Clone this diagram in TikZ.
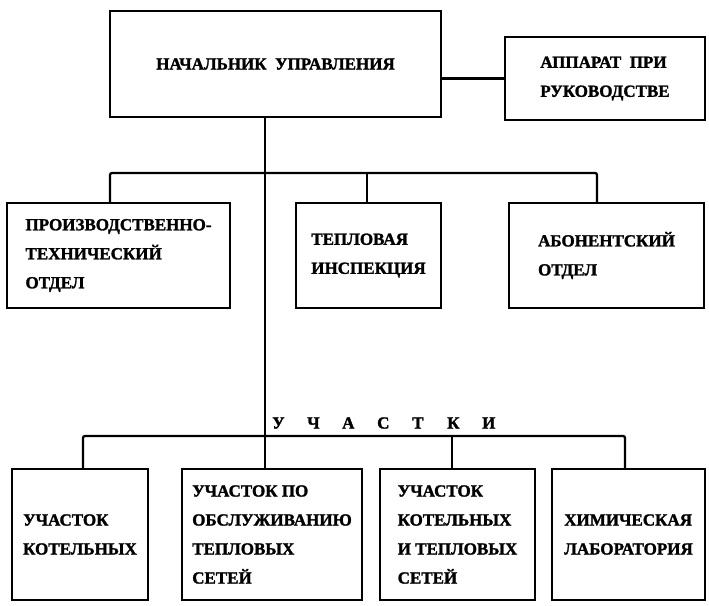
\documentclass[tikz,border=0pt]{standalone}
\usepackage{fontspec}
\newfontfamily\tw{Liberation Serif}[BoldFeatures={FakeBold=1.6}]
\newcommand{\spacedltr}[1]{\makebox[35pt][l]{#1}}
\begin{document}
\begin{tikzpicture}[x=1pt,y=-1pt,
  box/.style={draw, line width=2.3pt, rectangle, inner sep=0pt, align=left,
    font=\tw\bfseries\fontsize{17}{29}\selectfont},
  conn/.style={line width=2.3pt, rounded corners=2pt},
  lbl/.style={font=\tw\bfseries\fontsize{17}{29}\selectfont, inner sep=0pt}]
\useasboundingbox (0,0) rectangle (709,605);
% top row
\node[box, minimum width=331pt, minimum height=106pt] (top) at (275.5,64) {НАЧАЛЬНИК\ \ УПРАВЛЕНИЯ};
\node[box, minimum width=200pt, minimum height=83pt] (app) at (605,78.5) {АППАРАТ\ \ ПРИ\\РУКОВОДСТВЕ};
% middle row
\node[box, minimum width=223pt, minimum height=105pt] (pto) at (118.5,255.5) {ПРОИЗВОДСТВЕННО-\\ТЕХНИЧЕСКИЙ\\ОТДЕЛ};
\node[box, minimum width=145pt, minimum height=105pt] (tep) at (368.5,255.5) {ТЕПЛОВАЯ\\ИНСПЕКЦИЯ};
\node[box, minimum width=195pt, minimum height=105pt] (abo) at (606.5,255.5) {АБОНЕНТСКИЙ\\ОТДЕЛ};
% bottom row
\node[box, minimum width=136pt, minimum height=131pt] (b1) at (80,534.5) {УЧАСТОК\\КОТЕЛЬНЫХ};
\node[box, minimum width=180pt, minimum height=131pt] (b2) at (272,534.5) {УЧАСТОК ПО\\ОБСЛУЖИВАНИЮ\\ТЕПЛОВЫХ\\СЕТЕЙ};
\node[box, minimum width=155pt, minimum height=131pt] (b3) at (457.5,534.5) {УЧАСТОК\\КОТЕЛЬНЫХ\\И ТЕПЛОВЫХ\\СЕТЕЙ};
\node[box, minimum width=153pt, minimum height=131pt] (b4) at (628.5,534.5) {ХИМИЧЕСКАЯ\\ЛАБОРАТОРИЯ};
% label
\node[lbl, anchor=west] (uch) at (272,423) {\spacedltr{У}\spacedltr{Ч}\spacedltr{А}\spacedltr{С}\spacedltr{Т}\spacedltr{К}И};
% bus coordinates
\coordinate (mbus) at (265,173);
\coordinate (bbus) at (265,436);
\coordinate (tr) at (265,117);
% connectors
\draw[conn] (app.west) -- (app.west -| top.east);
\draw[conn] (tr) -- ([xshift=-7pt]b2.north);
\draw[conn] ([xshift=-8.5pt]pto.north) |- (mbus) -| ([xshift=-9.5pt]abo.north);
\draw[conn] ([xshift=-1.5pt]tep.north) -- ([xshift=-1.5pt]tep.north |- mbus);
\draw[conn] ([xshift=3pt]b1.north) |- (bbus) -| ([xshift=-3.5pt]b4.north);
\draw[conn] ([xshift=-5.5pt]b3.north) -- ([xshift=-5.5pt]b3.north |- bbus);
\end{tikzpicture}
\end{document}
